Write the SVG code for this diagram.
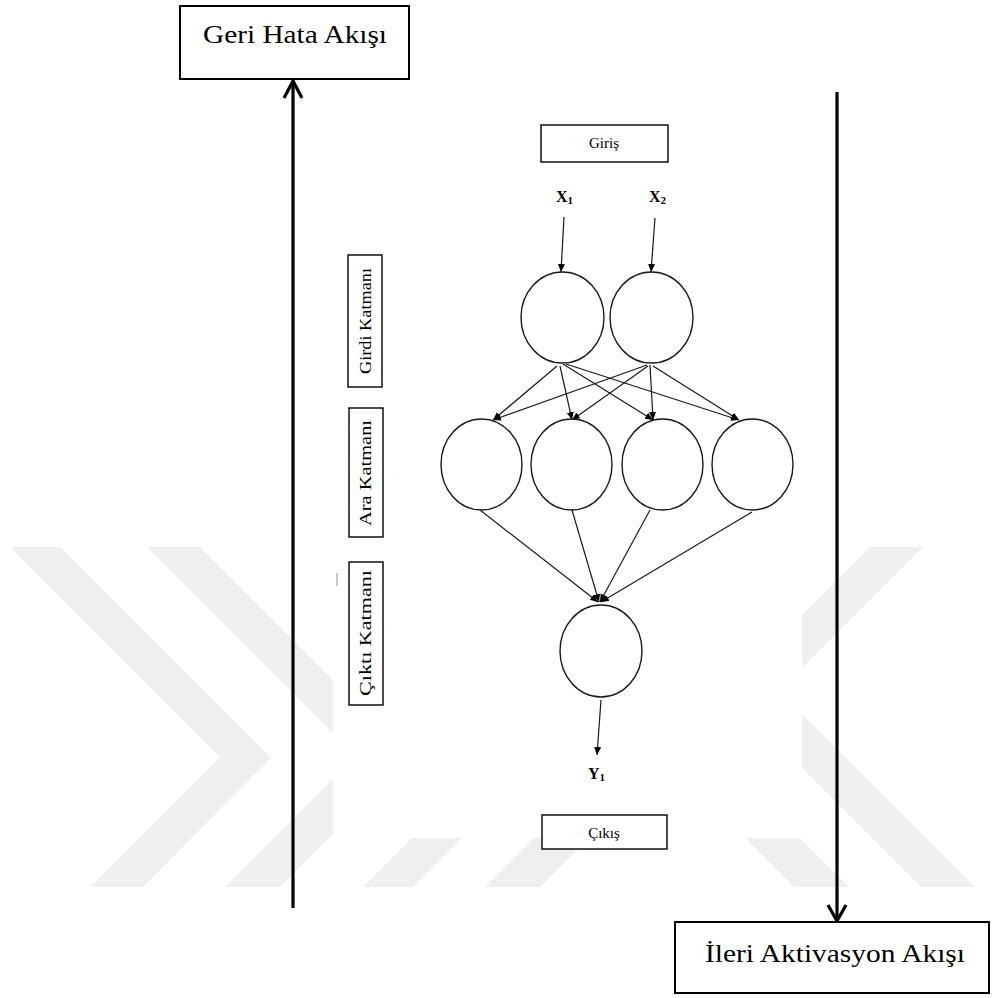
<svg xmlns="http://www.w3.org/2000/svg" width="992" height="998" viewBox="0 0 992 998">
<style>
.wm{fill:#efefef;stroke:none}
.box{fill:#fff;stroke:#000;stroke-width:1.4}
.bigbox{fill:#fff;stroke:#000;stroke-width:2}
.node{fill:#fff;stroke:#1a1a1a;stroke-width:1.4}
.edge{fill:none;stroke:#1a1a1a;stroke-width:1.2}
.thick{fill:none;stroke:#000;stroke-width:3.2}
.big{font-family:"Liberation Serif","Times New Roman",serif;font-size:26px;fill:#000}
.small{font-family:"Liberation Serif","Times New Roman",serif;font-size:15px;fill:#000}
.side{font-family:"Liberation Serif","Times New Roman",serif;font-size:17px;fill:#000}
.var{font-family:"Liberation Serif","Times New Roman",serif;font-size:16px;font-weight:bold;fill:#000}
</style>
<defs>
<marker id="ah" markerUnits="userSpaceOnUse" markerWidth="9" markerHeight="8" refX="8" refY="3.5" orient="auto">
<path d="M0,0 L8,3.5 L0,7 z" fill="#000"/>
</marker>
</defs>
<rect width="992" height="998" fill="#fff"/>
<g id="watermark">
<polygon class="wm" points="10,547 60,547 271,758 143,887 90,887 220,757"/>
<polygon class="wm" points="147,547 200,547 410,757 280,887 225,887 356,756"/>
<polygon class="wm" points="363,887 413,887 462,838 412,838"/>
<polygon class="wm" points="485,887 540,887 589,838 534,838"/>
<polygon class="wm" points="745,838 800,838 849,887 794,887"/>
<polygon class="wm" points="870,547 923,547 802,668 802,615"/>
<polygon class="wm" points="802,714 975,887 921,887 802,768"/>
<rect x="333" y="0" width="469" height="838" fill="#fff"/>
<line x1="337" y1="573" x2="337" y2="586" stroke="#c8c8c8" stroke-width="2"/>
</g>
<g id="connectors">
<line class="thick" x1="293" y1="908" x2="293" y2="82"/>
<polyline class="thick" points="284,98 293,81 302,98"/>
<line class="thick" x1="837" y1="92" x2="837" y2="920"/>
<polyline class="thick" points="828,905 837,921 846,905"/>
<line class="edge" x1="564" y1="217" x2="561" y2="272" marker-end="url(#ah)"/>
<line class="edge" x1="655" y1="218" x2="651" y2="272" marker-end="url(#ah)"/>
<line class="edge" x1="557" y1="366" x2="493" y2="420" marker-end="url(#ah)"/>
<line class="edge" x1="560" y1="366" x2="572" y2="420" marker-end="url(#ah)"/>
<line class="edge" x1="563" y1="364" x2="653" y2="420" marker-end="url(#ah)"/>
<line class="edge" x1="566" y1="364" x2="739" y2="420" marker-end="url(#ah)"/>
<line class="edge" x1="647" y1="365" x2="493" y2="420" marker-end="url(#ah)"/>
<line class="edge" x1="648" y1="366" x2="572" y2="420" marker-end="url(#ah)"/>
<line class="edge" x1="650" y1="365" x2="653" y2="420" marker-end="url(#ah)"/>
<line class="edge" x1="653" y1="366" x2="739" y2="420" marker-end="url(#ah)"/>
<line class="edge" x1="480" y1="510" x2="598" y2="602" marker-end="url(#ah)"/>
<line class="edge" x1="572" y1="510" x2="599" y2="602" marker-end="url(#ah)"/>
<line class="edge" x1="650" y1="510" x2="600" y2="602" marker-end="url(#ah)"/>
<line class="edge" x1="752" y1="512" x2="601" y2="602" marker-end="url(#ah)"/>
<line class="edge" x1="601" y1="700" x2="597" y2="755" marker-end="url(#ah)"/>
</g>
<g id="geri-hata">
<rect class="bigbox" x="180" y="6" width="229" height="73"/>
<text class="big" x="295" y="43" text-anchor="middle" textLength="184" lengthAdjust="spacingAndGlyphs">Geri Hata Akışı</text>
</g>
<g id="ileri-aktivasyon">
<rect class="bigbox" x="675" y="922" width="314" height="71"/>
<text class="big" x="835" y="962" text-anchor="middle" textLength="260" lengthAdjust="spacingAndGlyphs">İleri Aktivasyon Akışı</text>
</g>
<g id="giris">
<rect class="box" x="541" y="125" width="127" height="37"/>
<text class="small" x="604" y="148" text-anchor="middle">Giriş</text>
</g>
<g id="x1"><text class="var" x="556" y="202">X<tspan font-size="11" dy="2">1</tspan></text></g>
<g id="x2"><text class="var" x="649" y="202">X<tspan font-size="11" dy="2">2</tspan></text></g>
<g id="girdi-katmani">
<rect class="box" x="348" y="255" width="34" height="132"/>
<text class="side" transform="translate(370.5,321) rotate(-90)" text-anchor="middle" textLength="106" lengthAdjust="spacingAndGlyphs">Girdi Katmanı</text>
</g>
<g id="ara-katmani">
<rect class="box" x="349" y="408" width="34" height="129"/>
<text class="side" transform="translate(371,473) rotate(-90)" text-anchor="middle" textLength="106" lengthAdjust="spacingAndGlyphs">Ara Katmanı</text>
</g>
<g id="cikti-katmani">
<rect class="box" x="349" y="562" width="34" height="143"/>
<text class="side" transform="translate(371,633) rotate(-90)" text-anchor="middle" textLength="126" lengthAdjust="spacingAndGlyphs">Çıktı Katmanı</text>
</g>
<g id="input-1"><ellipse class="node" cx="562.5" cy="317.5" rx="41.5" ry="45.5"/></g>
<g id="input-2"><ellipse class="node" cx="651.5" cy="317.5" rx="41.5" ry="45.5"/></g>
<g id="hidden-1"><ellipse class="node" cx="481.5" cy="464.5" rx="40.5" ry="45.5"/></g>
<g id="hidden-2"><ellipse class="node" cx="571.5" cy="464.5" rx="40.5" ry="45.5"/></g>
<g id="hidden-3"><ellipse class="node" cx="662.5" cy="464.5" rx="40.5" ry="45.5"/></g>
<g id="hidden-4"><ellipse class="node" cx="752.5" cy="464.5" rx="40.5" ry="45.5"/></g>
<g id="output"><ellipse class="node" cx="601" cy="651" rx="41" ry="46"/></g>
<g id="y1"><text class="var" x="588" y="779">Y<tspan font-size="11" dy="2">1</tspan></text></g>
<g id="cikis">
<rect class="box" x="542" y="815" width="125" height="34"/>
<text class="small" x="604" y="838" text-anchor="middle">Çıkış</text>
</g>
</svg>
